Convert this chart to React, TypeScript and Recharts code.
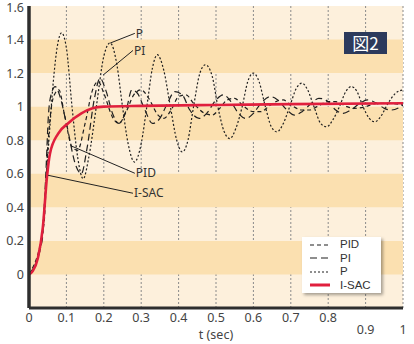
import { LineChart, Line, XAxis, YAxis, CartesianGrid, ReferenceArea, ReferenceLine, Legend } from 'recharts';

// step responses (t in sec, v = output)
const pData = [
    { t: 0, v: 0 }, { t: 0.03, v: 0.15 }, { t: 0.05, v: 0.7 }, { t: 0.065, v: 1.15 }, { t: 0.075, v: 1.35 },
    { t: 0.087, v: 1.44 }, { t: 0.1, v: 1.35 }, { t: 0.115, v: 1.0 }, { t: 0.13, v: 0.7 }, { t: 0.145, v: 0.57 },
    { t: 0.16, v: 0.7 }, { t: 0.18, v: 1.0 }, { t: 0.2, v: 1.3 }, { t: 0.217, v: 1.38 }, { t: 0.235, v: 1.25 },
    { t: 0.25, v: 1.0 }, { t: 0.265, v: 0.78 }, { t: 0.282, v: 0.67 }, { t: 0.3, v: 0.78 }, { t: 0.315, v: 1.0 },
    { t: 0.33, v: 1.23 }, { t: 0.343, v: 1.31 }, { t: 0.36, v: 1.22 }, { t: 0.378, v: 1.0 }, { t: 0.395, v: 0.8 },
    { t: 0.41, v: 0.73 }, { t: 0.425, v: 0.8 }, { t: 0.44, v: 1.0 }, { t: 0.457, v: 1.2 }, { t: 0.472, v: 1.25 },
    { t: 0.49, v: 1.18 }, { t: 0.505, v: 1.0 }, { t: 0.522, v: 0.85 }, { t: 0.537, v: 0.81 }, { t: 0.553, v: 0.87 },
    { t: 0.57, v: 1.0 }, { t: 0.585, v: 1.15 }, { t: 0.6, v: 1.2 }, { t: 0.615, v: 1.15 }, { t: 0.632, v: 1.0 },
    { t: 0.648, v: 0.88 }, { t: 0.663, v: 0.85 }, { t: 0.68, v: 0.9 }, { t: 0.697, v: 1.0 }, { t: 0.715, v: 1.11 },
    { t: 0.73, v: 1.14 }, { t: 0.745, v: 1.1 }, { t: 0.762, v: 1.0 }, { t: 0.78, v: 0.9 }, { t: 0.796, v: 0.88 },
    { t: 0.812, v: 0.92 }, { t: 0.83, v: 1.0 }, { t: 0.847, v: 1.09 }, { t: 0.862, v: 1.12 }, { t: 0.877, v: 1.09 },
    { t: 0.893, v: 1.0 }, { t: 0.91, v: 0.93 }, { t: 0.925, v: 0.91 }, { t: 0.94, v: 0.94 }, { t: 0.96, v: 1.02 },
    { t: 0.98, v: 1.08 }, { t: 1.0, v: 1.1 },
];

const piData = [
    { t: 0, v: 0 }, { t: 0.035, v: 0.2 }, { t: 0.045, v: 0.6 }, { t: 0.052, v: 0.95 }, { t: 0.06, v: 1.08 },
    { t: 0.07, v: 1.12 }, { t: 0.08, v: 1.08 }, { t: 0.1, v: 0.9 }, { t: 0.125, v: 0.65 }, { t: 0.14, v: 0.6 },
    { t: 0.155, v: 0.75 }, { t: 0.175, v: 1.05 }, { t: 0.19, v: 1.17 }, { t: 0.205, v: 1.1 }, { t: 0.225, v: 0.95 },
    { t: 0.24, v: 0.9 }, { t: 0.26, v: 0.98 }, { t: 0.275, v: 1.1 }, { t: 0.29, v: 1.08 }, { t: 0.31, v: 0.98 },
    { t: 0.33, v: 0.9 }, { t: 0.35, v: 0.93 }, { t: 0.37, v: 1.02 }, { t: 0.39, v: 1.09 }, { t: 0.41, v: 1.07 },
    { t: 0.43, v: 0.98 }, { t: 0.455, v: 0.93 }, { t: 0.475, v: 0.96 }, { t: 0.5, v: 1.04 }, { t: 0.52, v: 1.07 },
    { t: 0.54, v: 1.03 }, { t: 0.56, v: 0.96 }, { t: 0.58, v: 0.93 }, { t: 0.6, v: 0.96 }, { t: 0.62, v: 1.02 },
    { t: 0.645, v: 1.06 }, { t: 0.665, v: 1.04 }, { t: 0.69, v: 0.98 }, { t: 0.71, v: 0.95 }, { t: 0.73, v: 0.97 },
    { t: 0.755, v: 1.02 }, { t: 0.775, v: 1.05 }, { t: 0.8, v: 1.03 }, { t: 0.82, v: 0.98 }, { t: 0.84, v: 0.96 },
    { t: 0.86, v: 0.98 }, { t: 0.885, v: 1.02 }, { t: 0.905, v: 1.04 }, { t: 0.93, v: 1.02 }, { t: 0.95, v: 0.99 },
    { t: 0.97, v: 0.98 }, { t: 1.0, v: 1.01 },
];

const pidData = [
    { t: 0, v: 0 }, { t: 0.04, v: 0.3 }, { t: 0.05, v: 0.75 }, { t: 0.06, v: 1.0 }, { t: 0.07, v: 1.08 },
    { t: 0.08, v: 1.1 }, { t: 0.095, v: 0.95 }, { t: 0.115, v: 0.76 }, { t: 0.13, v: 0.74 }, { t: 0.15, v: 0.9 },
    { t: 0.17, v: 1.1 }, { t: 0.185, v: 1.15 }, { t: 0.2, v: 1.08 }, { t: 0.225, v: 0.93 }, { t: 0.24, v: 0.9 },
    { t: 0.26, v: 0.97 }, { t: 0.28, v: 1.07 }, { t: 0.3, v: 1.1 }, { t: 0.32, v: 1.05 }, { t: 0.345, v: 0.95 },
    { t: 0.36, v: 0.93 }, { t: 0.38, v: 0.98 }, { t: 0.4, v: 1.06 }, { t: 0.42, v: 1.07 }, { t: 0.44, v: 1.02 },
    { t: 0.47, v: 0.96 }, { t: 0.49, v: 0.95 }, { t: 0.51, v: 0.99 }, { t: 0.53, v: 1.04 }, { t: 0.55, v: 1.05 },
    { t: 0.57, v: 1.01 }, { t: 0.6, v: 0.97 }, { t: 0.62, v: 0.97 }, { t: 0.64, v: 1.0 }, { t: 0.66, v: 1.03 },
    { t: 0.68, v: 1.04 }, { t: 0.7, v: 1.01 }, { t: 0.73, v: 0.98 }, { t: 0.75, v: 0.98 }, { t: 0.77, v: 1.0 },
    { t: 0.8, v: 1.03 }, { t: 0.82, v: 1.03 }, { t: 0.85, v: 1.0 }, { t: 0.87, v: 0.99 }, { t: 0.9, v: 1.0 },
    { t: 0.93, v: 1.02 }, { t: 0.96, v: 1.02 }, { t: 1.0, v: 1.01 },
];

const isacData = [
    { t: 0, v: 0 }, { t: 0.01, v: 0.02 }, { t: 0.024, v: 0.1 }, { t: 0.037, v: 0.28 }, { t: 0.048, v: 0.58 },
    { t: 0.056, v: 0.72 }, { t: 0.078, v: 0.84 }, { t: 0.104, v: 0.9 }, { t: 0.14, v: 0.96 }, { t: 0.17, v: 0.99 },
    { t: 0.2, v: 1.0 }, { t: 0.3, v: 1.005 }, { t: 0.5, v: 1.01 }, { t: 0.7, v: 1.015 }, { t: 1.0, v: 1.02 },
];

const xTicks = [0, 0.1, 0.2, 0.3, 0.4, 0.5, 0.6, 0.7, 0.8, 0.9, 1];
const yTicks = [0, 0.2, 0.4, 0.6, 0.8, 1, 1.2, 1.4, 1.6];
const darkBands = [[0, 0.2], [0.4, 0.6], [0.8, 1.0], [1.2, 1.4]];

// callout labels: point on curve -> label anchor
const callouts = [
    { name: 'P', t1: 0.217, v1: 1.379, t2: 0.283, v2: 1.437 },
    { name: 'PI', t1: 0.198, v1: 1.188, t2: 0.278, v2: 1.335 },
    { name: 'PID', t1: 0.115, v1: 0.764, t2: 0.283, v2: 0.603 },
    { name: 'I-SAC', t1: 0.051, v1: 0.591, t2: 0.278, v2: 0.484 },
];

const series = [
    { name: 'PID', data: pidData, dash: '4 3', color: '#1f1f1f', width: 1.2 },
    { name: 'PI', data: piData, dash: '7 4', color: '#1f1f1f', width: 1.2 },
    { name: 'P', data: pData, dash: '2 2', color: '#1f1f1f', width: 1.2 },
    { name: 'I-SAC', data: isacData, dash: undefined, color: '#e01f3d', width: 2.6 },
];

const FONT = '"Noto Sans", sans-serif';
const frame = '#2e2e2e';

const fmt = (v: number) => String(Number(v.toFixed(1)));

const XTick = (props: any) => {
    const { x, y, payload } = props;
    const low = payload.value > 0.85;
    return (
        <text x={x} y={y + (low ? 12 : 0)} dy="0.71em" textAnchor="middle" fontSize={12.5} fill="#444" fontFamily={FONT}>
            {fmt(payload.value)}
        </text>
    );
};

const YTick = (props: any) => {
    const { x, y, payload } = props;
    // top label sits right at the frame corner; keep it inside the page
    const shift = payload.value > 1.5 ? 1.5 : 0;
    return (
        <text x={x} y={y + shift} dy="0.355em" textAnchor="end" fontSize={12.5} fill="#444" fontFamily={FONT}>
            {fmt(payload.value)}
        </text>
    );
};

const calloutShape = (name: string) => (props: any) => {
    const { x1, y1, x2, y2 } = props;
    return (
        <g>
            <line x1={x1} y1={y1} x2={x2} y2={y2} stroke="#222" strokeWidth={1} />
            <text x={x2 + 1} y={y2} dy="0.35em" fontSize={12} fill="#333" fontFamily={FONT}>{name}</text>
        </g>
    );
};

const LegendBox = () => (
    <div style={{
        background: '#fff', boxShadow: '2px 2px 3px rgba(0,0,0,0.35)', width: 79, boxSizing: 'border-box',
        padding: '1px 0 1px 8px', fontFamily: '"Liberation Sans", sans-serif', fontSize: 11.5, color: '#333', lineHeight: '13.5px',
    }}>
        {series.map((s) => (
            <div key={s.name} style={{ display: 'flex', alignItems: 'center', height: 13.5 }}>
                <svg width={20} height={8} style={{ marginRight: 10 }}>
                    <line x1={0} y1={4} x2={20} y2={4} stroke={s.color} strokeWidth={s.name === 'I-SAC' ? 3 : 1.2} strokeDasharray={s.dash} />
                </svg>
                <span>{s.name}</span>
            </div>
        ))}
    </div>
);

export default function App() {
    return (
        <div style={{ position: 'absolute', left: 0, top: 0, width: 414, height: 344, background: '#fff' }}>
            <LineChart width={414} height={344} data={isacData} margin={{ top: 6, right: 11, left: 1, bottom: 0 }}>
                <CartesianGrid horizontal={false} stroke="#8a8a8a" strokeDasharray="2 2" fill="#fdf0dc" fillOpacity={1} />
                {darkBands.map(([a, b]) => (
                    <ReferenceArea key={a} y1={a} y2={b} fill="#fbe0b0" fillOpacity={1} stroke="none" ifOverflow="visible" />
                ))}
                <XAxis
                    dataKey="t" type="number" domain={[0, 1]} ticks={xTicks} allowDataOverflow height={36}
                    axisLine={{ stroke: frame, strokeWidth: 3 }} tickLine={false} tickSize={0} tickMargin={5}
                    tick={<XTick />} interval={0}
                    label={{ value: 't (sec)', position: 'insideBottom', offset: 5, fontSize: 12.5, fill: '#444', fontFamily: FONT }}
                />
                <XAxis xAxisId="top" orientation="top" type="number" domain={[0, 1]} height={0} tick={false} tickLine={false}
                    axisLine={{ stroke: frame, strokeWidth: 3 }} />
                <YAxis
                    type="number" domain={[-0.2, 1.6]} ticks={yTicks} width={28} allowDataOverflow interval={0}
                    axisLine={{ stroke: frame, strokeWidth: 3.5 }} tickLine={false} tickSize={0} tickMargin={5}
                    tick={<YTick />}
                />
                <YAxis yAxisId="l2" type="number" domain={[-0.2, 1.6]} ticks={yTicks} width={0} mirror interval={0}
                    axisLine={false} tickSize={4} tickLine={{ stroke: frame, strokeWidth: 1.5 }} tickFormatter={() => ''} />
                <YAxis yAxisId="r" orientation="right" type="number" domain={[-0.2, 1.6]} ticks={yTicks} width={0} mirror interval={0}
                    axisLine={{ stroke: frame, strokeWidth: 3 }} tickSize={5} tickLine={{ stroke: frame, strokeWidth: 1.5 }} tickFormatter={() => ''} />
                {series.map((s) => (
                    <Line key={s.name} data={s.data} dataKey="v" name={s.name} type="monotone" stroke={s.color}
                        strokeWidth={s.width} strokeDasharray={s.dash} dot={false} activeDot={false} isAnimationActive={false} />
                ))}
                {callouts.map((c) => (
                    <ReferenceLine key={c.name} segment={[{ x: c.t1, y: c.v1 }, { x: c.t2, y: c.v2 }]} ifOverflow="visible"
                        shape={calloutShape(c.name)} />
                ))}
                <Legend layout="vertical" verticalAlign="middle" align="center" content={<LegendBox />}
                    wrapperStyle={{ position: 'absolute', left: 302, top: 237, width: 79, height: 'auto' }} />
            </LineChart>
            <div style={{
                position: 'absolute', left: 344, top: 32, width: 43, height: 22, background: '#2c3a5c', color: '#fff',
                fontFamily: '"Noto Sans CJK JP", sans-serif', fontSize: 17, lineHeight: '22px', textAlign: 'center',
            }}>図2</div>
        </div>
    );
}
